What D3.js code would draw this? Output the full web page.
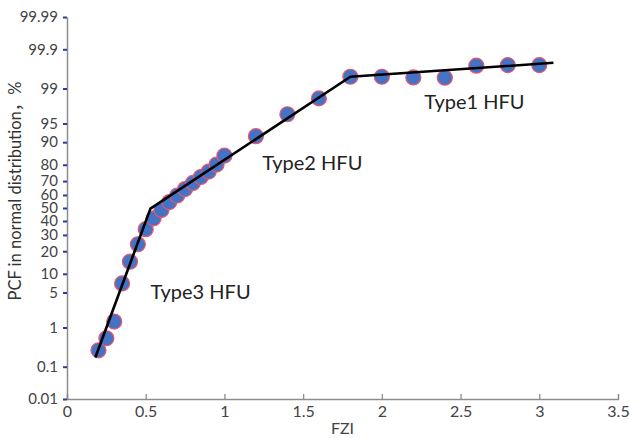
<!DOCTYPE html>
<html>
<head>
<meta charset="utf-8">
<script src="https://cdn.jsdelivr.net/npm/d3@7"></script>
<style>
  html, body { margin: 0; padding: 0; background: #fff; }
  svg { display: block; }
  text { font-family: Lato, "Open Sans", "Noto Sans CJK SC", sans-serif; }
</style>
</head>
<body>
<svg id="chart" width="630" height="438"></svg>
<script>
// Flow zone indicator (FZI) and cumulative frequency (%) of each sample
const fzi = [0.2, 0.25, 0.3, 0.35, 0.4, 0.45, 0.5, 0.55, 0.6, 0.65, 0.7, 0.75, 0.8, 0.85, 0.9, 0.95, 1.0,
             1.2, 1.4, 1.6, 1.8, 2.0, 2.2, 2.4, 2.6, 2.8, 3.0];
const pcf = [0.28, 0.56, 1.35, 7.1, 14.8, 24, 34, 42, 48.5, 54.6, 59.6, 64.4, 68.7, 72.7, 76.1, 80.1, 84.6,
             91.9, 96.6, 98.36, 99.47, 99.47, 99.45, 99.44, 99.72, 99.73, 99.73];

// Piecewise fit through the three hydraulic flow units
const fitFzi = [0.18, 0.53, 1.8, 3.09];
const fitPcf = [0.18, 49.5, 99.47, 99.765];

// Unit labels (left edge FZI, baseline PCF)
const unitNames = ["Type1 HFU", "Type2 HFU", "Type3 HFU"];
const unitFzi = [2.27, 1.24, 0.53];
const unitPcf = [97.3, 77, 3.84];

// Axis ticks
const xTicks = [0, 0.5, 1, 1.5, 2, 2.5, 3, 3.5];
const yTickLabels = ["0.01", "0.1", "1", "5", "10", "20", "30", "40", "50", "60", "70", "80", "90", "95", "99", "99.9", "99.99"];

// Inverse standard normal CDF (Acklam's rational approximation)
function probit(p) {
  const a = [-3.969683028665376e+01, 2.209460984245205e+02, -2.759285104469687e+02,
             1.383577518672690e+02, -3.066479806614716e+01, 2.506628277459239e+00];
  const b = [-5.447609879822406e+01, 1.615858368580409e+02, -1.556989798598866e+02,
             6.680131188771972e+01, -1.328068155288572e+01];
  const c = [-7.784894002430293e-03, -3.223964580411365e-01, -2.400758277161838e+00,
             -2.549732539343734e+00, 4.374664141464968e+00, 2.938163982698783e+00];
  const d = [7.784695709041462e-03, 3.224671290700398e-01, 2.445134137142996e+00,
             3.754408661907416e+00];
  const pl = 0.02425, ph = 1 - pl;
  let q, r;
  if (p < pl) {
    q = Math.sqrt(-2 * Math.log(p));
    return (((((c[0]*q+c[1])*q+c[2])*q+c[3])*q+c[4])*q+c[5]) / ((((d[0]*q+d[1])*q+d[2])*q+d[3])*q+1);
  } else if (p <= ph) {
    q = p - 0.5; r = q * q;
    return (((((a[0]*r+a[1])*r+a[2])*r+a[3])*r+a[4])*r+a[5])*q / (((((b[0]*r+b[1])*r+b[2])*r+b[3])*r+b[4])*r+1);
  } else {
    q = Math.sqrt(-2 * Math.log(1 - p));
    return -(((((c[0]*q+c[1])*q+c[2])*q+c[3])*q+c[4])*q+c[5]) / ((((d[0]*q+d[1])*q+d[2])*q+d[3])*q+1);
  }
}
const z = pct => probit(pct / 100);

const svg = d3.select("#chart");
const margin = { left: 67, top: 17, right: 12, bottom: 39 };
const W = 630, H = 438;

const x = d3.scaleLinear().domain([0, 3.5]).range([margin.left, W - margin.right]);
const y = d3.scaleLinear()
  .domain([z(0.01), z(99.99)])
  .range([H - margin.bottom, margin.top]);

// X axis
const xAxis = svg.append("g")
  .attr("transform", `translate(0,${H - margin.bottom})`)
  .call(d3.axisBottom(x).tickValues(xTicks).tickSize(-5).tickPadding(7)
    .tickFormat(d3.format("~g")));
xAxis.select(".domain").attr("stroke", "#8c8c8c").attr("stroke-width", 1.3);
xAxis.selectAll(".tick line").attr("stroke", "#8c8c8c").attr("stroke-width", 1.3);
xAxis.selectAll(".tick text").attr("font-size", 16).attr("fill", "#444");

// Y axis on the probability scale
const yAxis = svg.append("g")
  .attr("transform", `translate(${margin.left},0)`)
  .call(d3.axisLeft(y)
    .tickValues(yTickLabels.map(t => z(+t)))
    .tickFormat((d, i) => yTickLabels[i])
    .tickSize(4).tickSizeOuter(0).tickPadding(5));
yAxis.select(".domain").attr("stroke", "#8c8c8c").attr("stroke-width", 1.5);
yAxis.selectAll(".tick line").attr("stroke", "#2a3aa0").attr("stroke-width", 2);
yAxis.selectAll(".tick text").attr("font-size", 15).attr("fill", "#444");

// Axis titles
svg.append("text")
  .attr("x", x(1.75)).attr("y", 434)
  .attr("text-anchor", "middle").attr("font-size", 16).attr("fill", "#444")
  .text("FZI");
svg.append("text")
  .attr("transform", `translate(21,${191}) rotate(-90)`)
  .attr("text-anchor", "middle").attr("font-size", 16.5).attr("fill", "#333")
  .text("PCF in normal distribution，%");

// Sample points
const pts = fzi.map((f, i) => ({ f, p: pcf[i] }));
svg.append("g").selectAll("circle")
  .data(pts)
  .join("circle")
  .attr("cx", d => x(d.f))
  .attr("cy", d => y(z(d.p)))
  .attr("r", 7.5)
  .attr("fill", "#4472c4")
  .attr("stroke", "#e8576a")
  .attr("stroke-width", 1.2);

// Fitted segments
const fit = fitFzi.map((f, i) => ({ f, p: fitPcf[i] }));
svg.append("path")
  .datum(fit)
  .attr("fill", "none")
  .attr("stroke", "#000")
  .attr("stroke-width", 2.6)
  .attr("stroke-linejoin", "round")
  .attr("d", d3.line().x(d => x(d.f)).y(d => y(z(d.p))));

// Unit labels
svg.append("g").selectAll("text")
  .data(unitNames)
  .join("text")
  .attr("x", (d, i) => x(unitFzi[i]))
  .attr("y", (d, i) => y(z(unitPcf[i])))
  .attr("font-size", 20)
  .attr("fill", "#222")
  .text(d => d);
</script>
</body>
</html>
